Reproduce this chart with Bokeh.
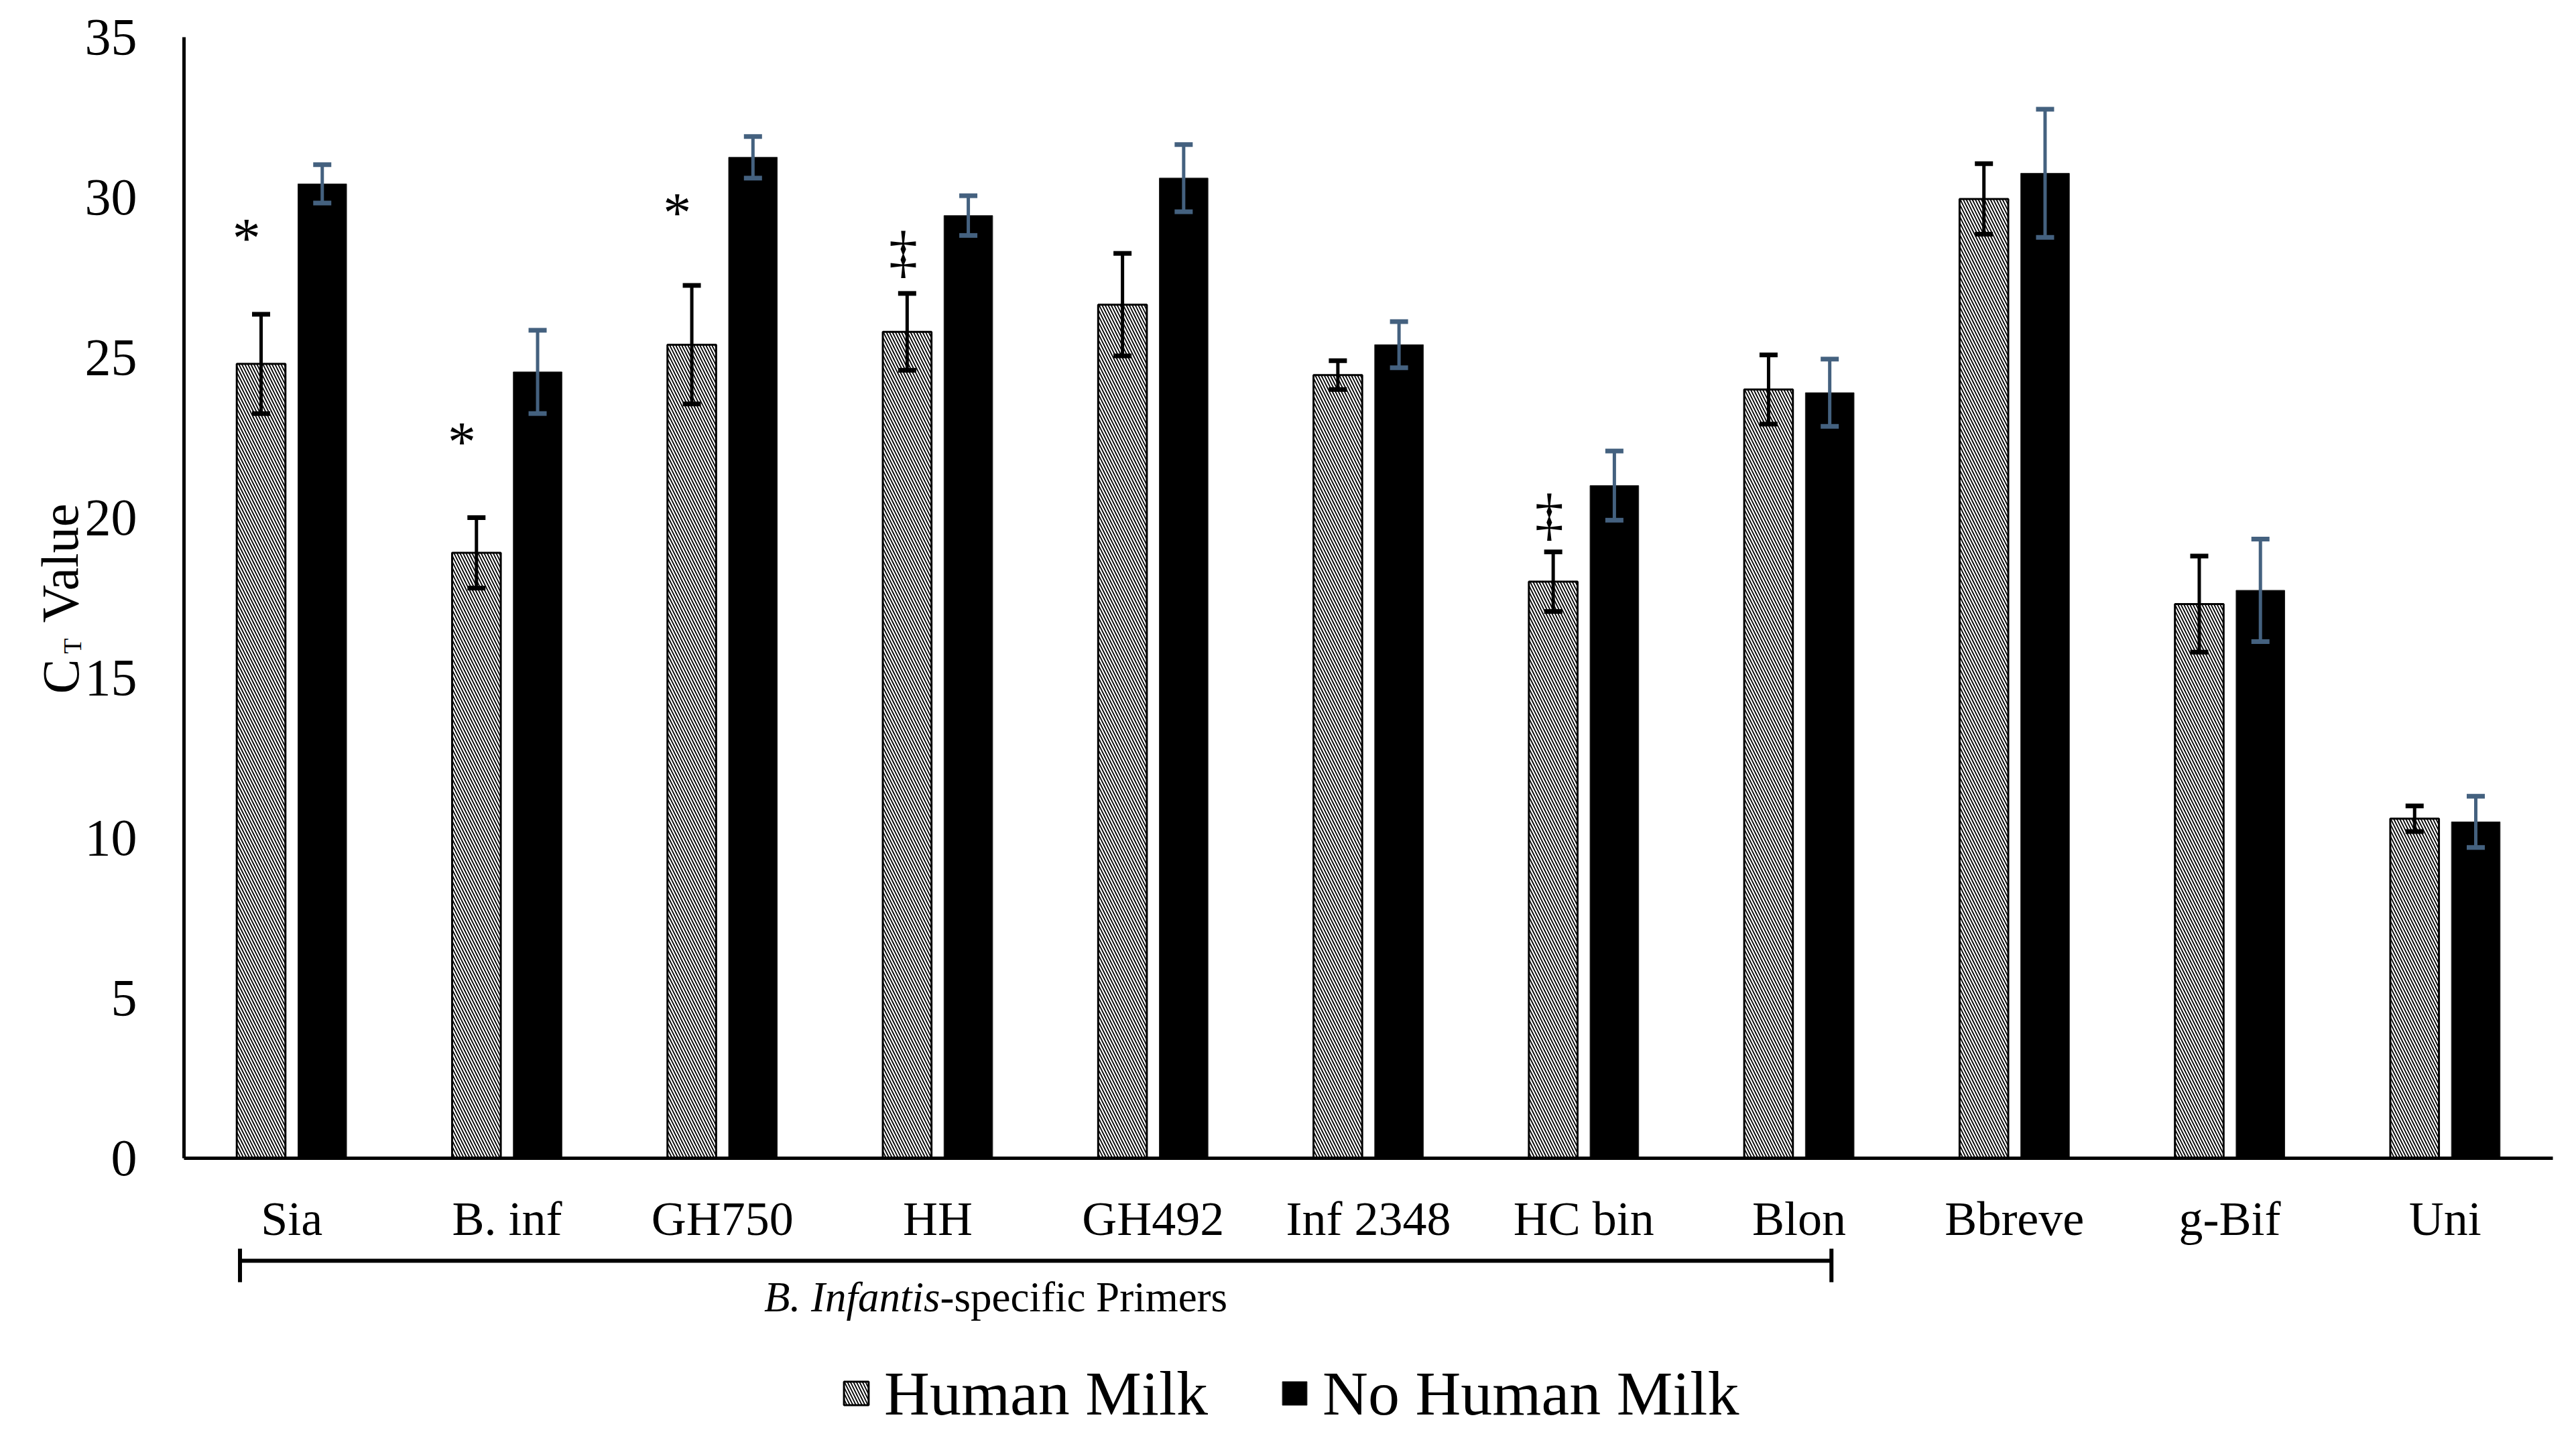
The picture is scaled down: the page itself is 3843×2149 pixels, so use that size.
from bokeh.plotting import figure
from bokeh.models import (FactorRange, Range1d, Whisker, TeeHead, ColumnDataSource, Label,
                          Legend, LegendItem, FixedTicker)
from bokeh.layouts import row, column
from bokeh.transform import dodge
from bokeh.core.properties import value
from bokeh.embed import file_html
from bokeh.resources import INLINE
import math

# ---------------- data ----------------
categories = ["Sia", "B. inf", "GH750", "HH", "GH492", "Inf 2348", "HC bin", "Blon", "Bbreve", "g-Bif", "Uni"]
human_milk = [24.8, 18.9, 25.4, 25.8, 26.65, 24.45, 18.0, 24.0, 29.95, 17.3, 10.6]
human_milk_err = [1.55, 1.1, 1.85, 1.2, 1.6, 0.45, 0.93, 1.08, 1.1, 1.5, 0.4]
no_human_milk = [30.42, 24.55, 31.25, 29.43, 30.6, 25.4, 21.0, 23.9, 30.75, 17.73, 10.5]
no_human_milk_err = [0.6, 1.3, 0.65, 0.62, 1.05, 0.72, 1.08, 1.05, 2.0, 1.6, 0.8]
y_ticks = [0, 5, 10, 15, 20, 25, 30, 35]

star_categories = ["Sia", "B. inf", "GH750"]
star_marks = ["*", "*", "*"]
star_y = [28.72, 22.37, 29.52]
dagger_categories = ["HH", "HC bin"]
dagger_marks = ["\u2021", "\u2021"]
dagger_y = [28.3, 20.1]

bracket_text_italic = "B. Infantis"
bracket_text_plain = "-specific Primers"
series_names = ["Human Milk", "No Human Milk"]

FONT = "Liberation Serif"
ERR_BLUE = "#44617f"

# ---------------- geometry (page pixels) ----------------
TOTAL_W, TOTAL_H = 3820, 2133
TITLE_W = 122
MAIN_W = TOTAL_W - TITLE_W
MAIN_H = 1863
BOTTOM_H = TOTAL_H - MAIN_H
LEFT_B, RIGHT_B, TOP_B, BOT_B = 152, 12, 55, 135


def clean(fig):
    fig.outline_line_color = None
    fig.background_fill_color = "white"
    fig.border_fill_color = "white"


# ---------------- main figure ----------------
p = figure(x_range=FactorRange(*categories), y_range=Range1d(0, 35),
           width=MAIN_W, height=MAIN_H, output_backend="svg", toolbar_location=None,
           min_border_left=LEFT_B, min_border_right=RIGHT_B, min_border_top=TOP_B,
           min_border_bottom=BOT_B)
clean(p)
p.xgrid.visible = False
p.ygrid.visible = False

src = ColumnDataSource(data=dict(
    cat=categories,
    hm=human_milk,
    nhm=no_human_milk,
    hm_up=[v + e for v, e in zip(human_milk, human_milk_err)],
    hm_lo=[v - e for v, e in zip(human_milk, human_milk_err)],
    nhm_up=[v + e for v, e in zip(no_human_milk, no_human_milk_err)],
    nhm_lo=[v - e for v, e in zip(no_human_milk, no_human_milk_err)],
))

OFF = 0.142
BW = 0.226
HM_STYLE = dict(fill_color="white", line_color="black", line_width=3,
                hatch_pattern="left_diagonal_line", hatch_color="black",
                hatch_scale=9, hatch_weight=1.8)
NHM_STYLE = dict(fill_color="black", line_color="#222222", line_width=1)

p.vbar(x=dodge("cat", -OFF, range=p.x_range), top="hm", width=BW, source=src, **HM_STYLE)
p.vbar(x=dodge("cat", OFF, range=p.x_range), top="nhm", width=BW, source=src, **NHM_STYLE)

w1 = Whisker(source=src, base=dodge("cat", -OFF, range=p.x_range), upper="hm_up", lower="hm_lo",
             line_color="black", line_width=5,
             upper_head=TeeHead(size=27, line_color="black", line_width=7),
             lower_head=TeeHead(size=27, line_color="black", line_width=7))
w1.level = "annotation"
w2 = Whisker(source=src, base=dodge("cat", OFF, range=p.x_range), upper="nhm_up", lower="nhm_lo",
             line_color=ERR_BLUE, line_width=5,
             upper_head=TeeHead(size=27, line_color=ERR_BLUE, line_width=7),
             lower_head=TeeHead(size=27, line_color=ERR_BLUE, line_width=7))
w2.level = "annotation"
p.add_layout(w1)
p.add_layout(w2)

# significance marks
star_src = ColumnDataSource(data=dict(cat=star_categories, mark=star_marks, y=star_y))
dag_src = ColumnDataSource(data=dict(cat=dagger_categories, mark=dagger_marks, y=dagger_y))
p.text(x=dodge("cat", -0.21, range=p.x_range), y="y", text="mark", source=star_src,
       text_font=value(FONT), text_font_size="84px", text_align="center",
       text_baseline="middle", text_color="black")
p.text(x=dodge("cat", -0.16, range=p.x_range), y="y", text="mark", source=dag_src,
       text_font=value(FONT), text_font_size="86px", text_align="center",
       text_baseline="middle", text_color="black")

yax = p.yaxis[0]
yax.ticker = FixedTicker(ticks=y_ticks)
yax.major_label_text_font = FONT
yax.major_label_text_font_size = "78px"
yax.major_label_text_color = "black"
yax.major_tick_out = 0
yax.major_tick_in = 0
yax.minor_tick_out = 0
yax.minor_tick_in = 0
yax.axis_line_width = 5
yax.axis_line_color = "black"
yax.major_label_standoff = 70

xax = p.xaxis[0]
xax.major_label_text_font = FONT
xax.major_label_text_font_size = "72px"
xax.major_label_text_color = "black"
xax.major_tick_out = 0
xax.major_tick_in = 0
xax.axis_line_width = 5
xax.axis_line_color = "black"
xax.major_label_standoff = 50

# ---------------- y-axis title strip ----------------
pt = figure(x_range=Range1d(8, 8 + TITLE_W), y_range=Range1d(0, 35),
            width=TITLE_W, height=MAIN_H, output_backend="svg", toolbar_location=None,
            x_axis_type=None, y_axis_type=None,
            min_border_left=0, min_border_right=0, min_border_top=TOP_B, min_border_bottom=BOT_B)
clean(pt)
pt.add_layout(Label(x=98, y=14.5, text="C", angle=math.pi / 2, text_align="left",
                    text_baseline="alphabetic", text_font=FONT, text_font_size="78px",
                    text_color="black"))
pt.add_layout(Label(x=115, y=15.75, text="T", angle=math.pi / 2, text_align="left",
                    text_baseline="alphabetic", text_font=FONT, text_font_size="38px",
                    text_color="black"))
pt.add_layout(Label(x=97, y=16.72, text="Value", angle=math.pi / 2, text_align="left",
                    text_baseline="alphabetic", text_font=FONT, text_font_size="78px",
                    text_color="black"))

# ---------------- bottom strip: bracket + legend ----------------
top_page = 8 + MAIN_H
pb = figure(x_range=Range1d(0, len(categories)), y_range=Range1d(top_page + BOTTOM_H, top_page),
            width=MAIN_W, height=BOTTOM_H, output_backend="svg", toolbar_location=None,
            x_axis_type=None, y_axis_type=None,
            min_border_left=LEFT_B, min_border_right=RIGHT_B, min_border_top=0, min_border_bottom=0)
clean(pb)

BR_X0, BR_X1, BR_Y, BR_T = 0.26, 7.65, 1889, 32
pb.segment(x0=[BR_X0, BR_X0, BR_X1], y0=[BR_Y, BR_Y - BR_T, BR_Y - BR_T],
           x1=[BR_X1, BR_X0, BR_X1], y1=[BR_Y, BR_Y + BR_T, BR_Y + BR_T],
           line_color="black", line_width=6)
pb.add_layout(Label(x=3.511, y=1943, text=bracket_text_italic, text_align="right",
                    text_baseline="alphabetic", text_font=FONT, text_font_size="63px",
                    text_font_style="italic", text_color="black"))
pb.add_layout(Label(x=3.511, y=1943, text=bracket_text_plain, text_align="left",
                    text_baseline="alphabetic", text_font=FONT, text_font_size="63px",
                    text_color="black"))

# legend proxies (hidden renderers; the legend still shows their swatches)
lg_hm = pb.vbar(x=[0], top=[0], bottom=[0], width=0.2, visible=False, **HM_STYLE)
lg_nhm = pb.vbar(x=[0], top=[0], bottom=[0], width=0.2, visible=False, **NHM_STYLE)
legend = Legend(items=[LegendItem(label=series_names[0], renderers=[lg_hm]),
                       LegendItem(label=series_names[1], renderers=[lg_nhm])],
                orientation="horizontal", location=(980, 0),
                label_text_font=FONT, label_text_font_size="94px", label_text_color="black",
                glyph_width=46, glyph_height=44, label_standoff=19, spacing=106,
                padding=0, margin=0, border_line_color=None, background_fill_alpha=0)
pb.add_layout(legend)

layout = row(pt, column(p, pb, spacing=0), spacing=0)

open("out.html", "w").write(file_html(layout, INLINE))
